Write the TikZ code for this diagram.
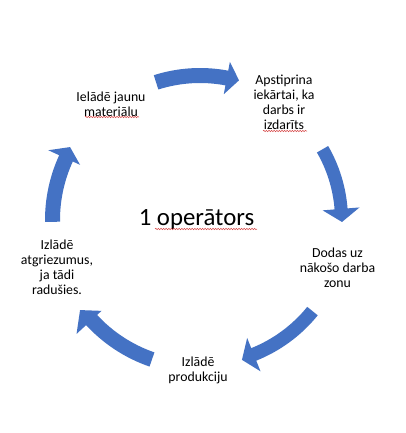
\documentclass[tikz,border=0pt]{standalone}
\usepackage{fontspec}
\setmainfont{Carlito}
\usetikzlibrary{calc,decorations.pathmorphing}
\definecolor{cycblue}{HTML}{4472C4}
\definecolor{spellred}{RGB}{215,70,70}
% #1 tail angle, #2 head base angle, #3 tip angle,
% #4 body inner r, #5 body outer r, #6 head inner r, #7 head outer r, #8 tip r
\newcommand\cycarrow[8]{%
  \fill[cycblue] ($(C)+(#1:#4)$) arc[start angle=#1,end angle=#2,radius=#4]
    -- ($(C)+(#2:#6)$) -- ($(C)+(#3:#8)$) -- ($(C)+(#2:#7)$)
    -- ($(C)+(#2:#5)$) arc[start angle=#2,end angle=#1,radius=#5] -- cycle;}
\begin{document}
\begin{tikzpicture}[x=1pt,y=1pt,
  lbl/.style={align=center,inner sep=0pt,font=\fontsize{13.8}{15}\selectfont},
  ttl/.style={inner sep=0pt,font=\fontsize{24.8}{28}\selectfont},
  squig/.style={draw=spellred,line width=0.5pt,decorate,
    decoration={snake,amplitude=0.7pt,segment length=2.6pt}}]
\fill[white] (0,0) rectangle (406,-433);
\useasboundingbox (0,0) rectangle (406,-433);
\coordinate (C) at (200,-220);
% arrows
\cycarrow{107.7}{79.3}{74.4}{137}{152}{128}{161}{145}
\cycarrow{30}{4.5}{-0.8}{135}{148}{123}{160}{142}
\cycarrow{-39}{-68.2}{-73.3}{138}{151.5}{127}{163}{146}
\cycarrow{-109}{-137.3}{-143.1}{140}{155}{134}{168}{150}
\cycarrow{180.7}{155.3}{150.7}{140}{155}{132}{167}{149}
% labels
\node[lbl] (load) at (111,-104) {Ielādē jaunu\\materiālu};
\node[lbl] (confirm) at (284,-102) {Apstiprina\\iekārtai, ka\\darbs ir\\izdarīts};
\node[lbl] (move) at (337.5,-268) {Dodas uz\\nākošo darba\\zonu};
\node[lbl] (unload) at (198,-370) {Izlādē\\produkciju};
\node[lbl] (scrap) at (57,-267) {Izlādē\\atgriezumus,\\ja tādi\\radušies.};
\node[ttl,anchor=base] (op) at (196.5,-225) {1 operātors};
% spell-check underlines
\draw[squig] (85,-117) -- (139,-117);
\draw[squig] (263,-131) -- (307,-131);
\draw[squig] (155,-229) -- (257,-229);
\end{tikzpicture}
\end{document}
